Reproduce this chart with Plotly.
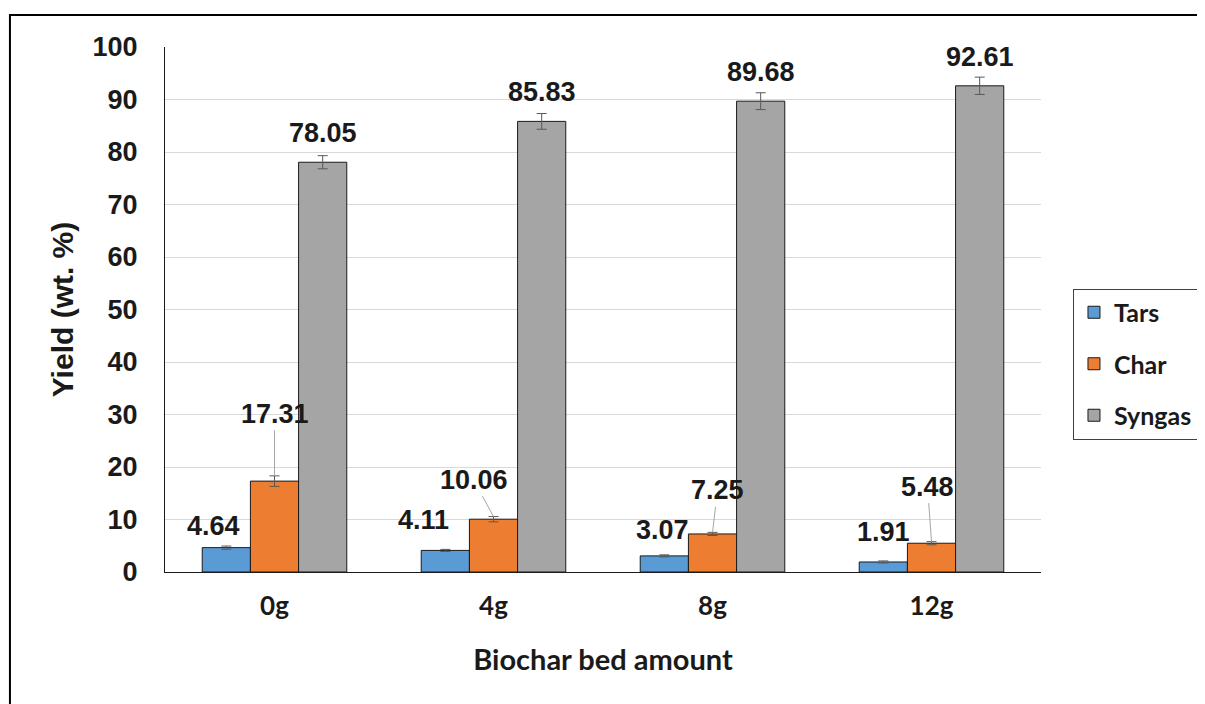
import plotly.graph_objects as go

# data
amounts = ["0g", "4g", "8g", "12g"]
tars = [4.64, 4.11, 3.07, 1.91]
char = [17.31, 10.06, 7.25, 5.48]
syngas = [78.05, 85.83, 89.68, 92.61]
tars_err = [0.3, 0.2, 0.2, 0.2]
char_err = [1.0, 0.5, 0.3, 0.3]
syngas_err = [1.25, 1.5, 1.6, 1.65]

series = [
    ("Tars", tars, tars_err, "#5B9BD5"),
    ("Char", char, char_err, "#ED7D31"),
    ("Syngas", syngas, syngas_err, "#A5A5A5"),
]

# label placement (pixel offsets from bar top), as in the original Excel chart
label_off = {
    "Tars": [(-13, -22), (-22, -30), (-2, -26), (0, -30)],
    "Char": [(0, -62), (-20, -37), (5, -42), (-4, -55)],
    "Syngas": [(0, -29)] * 4,
}

arial = "Liberation Sans, Arial, sans-serif"
calibri = "Lato, Liberation Sans, sans-serif"
lbl_font = dict(family=arial, size=27, color="#1a1a1a")
bar_w = 0.22

fig = go.Figure()
for k, (name, vals, err, col) in enumerate(series):
    fig.add_trace(go.Bar(
        x=amounts, y=vals, name=name, legendgroup=name,
        marker=dict(color=col, line=dict(color="#1a1a1a", width=1)),
        error_y=dict(type="data", array=err, color="#595959", thickness=1, width=5),
    ))

annotations = []
for k, (name, vals, err, col) in enumerate(series):
    for i, v in enumerate(vals):
        dx, dy = label_off[name][i]
        xpos = i + (k - 1) * bar_w
        if name == "Char":
            annotations.append(dict(
                x=xpos, y=v + err[i], xref="x", yref="y", text="<b>%.2f</b>" % v,
                showarrow=True, arrowhead=0, arrowwidth=1, arrowcolor="#a6a6a6",
                ax=dx, ay=dy, standoff=0, font=lbl_font))
        else:
            annotations.append(dict(
                x=xpos, y=v, xref="x", yref="y", text="<b>%.2f</b>" % v,
                showarrow=False, xshift=dx, yshift=-dy, font=lbl_font))

# page body adds an 8px margin, so the figure is 8px smaller and shifted
fig.update_layout(
    width=1197, height=696,
    margin=dict(l=157, r=164, t=39, b=132, autoexpand=False),
    paper_bgcolor="white", plot_bgcolor="white",
    barmode="group", bargap=0.34, bargroupgap=0,
    showlegend=True,
    legend=dict(
        x=1.0365, y=0.54, xanchor="left", yanchor="top",
        bordercolor="#404040", borderwidth=1, bgcolor="white",
        font=dict(family=calibri, size=25, color="#1a1a1a", weight="bold"),
        traceorder="grouped", tracegroupgap=16, itemwidth=30,
    ),
    annotations=annotations,
    shapes=[dict(type="rect", xref="paper", yref="paper",
                 x0=-0.177, x1=1.25, y0=-0.3, y1=1.061,
                 line=dict(color="black", width=2), layer="below")],
)

fig.update_yaxes(
    range=[0, 100], dtick=10, showgrid=True, gridcolor="#D9D9D9", gridwidth=1,
    zeroline=False, showline=True, linecolor="#1a1a1a", linewidth=1,
    ticks="", ticklabelstandoff=21,
    tickfont=dict(family=arial, size=27, color="#1a1a1a"),
    tickprefix="<b>", ticksuffix="</b>",
    title=dict(text="<b>Yield (wt. %)</b>", standoff=10,
               font=dict(family=arial, size=30, color="#1a1a1a")),
)
fig.update_xaxes(
    showline=True, linecolor="#1a1a1a", linewidth=1, ticks="",
    ticklabelstandoff=11,
    tickfont=dict(family=calibri, size=26, color="#1a1a1a"),
    tickprefix="<b>", ticksuffix="</b>",
    title=dict(text="<b>Biochar bed amount</b>", standoff=29,
               font=dict(family=calibri, size=29, color="#1a1a1a")),
)

fig.write_html("out.html")
